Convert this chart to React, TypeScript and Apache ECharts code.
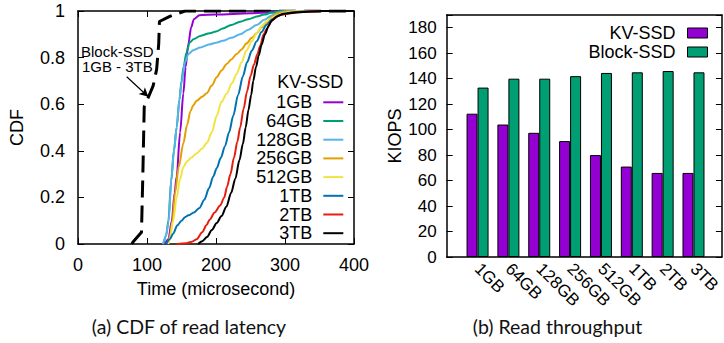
import { useEffect, useRef } from 'react';
import * as echarts from 'echarts';

// ---------- data ----------
const sizeNames = ['1GB', '64GB', '128GB', '256GB', '512GB', '1TB', '2TB', '3TB'];
const lineColors = ['#9400D3', '#009E73', '#56B4E9', '#E69F00', '#F0E442', '#0072B2', '#E51E10', '#000000'];

const cdfBlockSSD = [[78, 0], [80, 0.01], [92, 0.05], [94, 0.3], [96, 0.59], [102, 0.63], [109, 0.68], [114, 0.75], [117, 0.86], [118, 0.955], [133, 0.977], [155, 1.0], [400, 1.0]];

const cdf1GB = [[126, 0], [131, 0.02], [136, 0.1], [140, 0.22], [143, 0.29], [148, 0.48], [152.7, 0.647], [156, 0.76], [160, 0.86], [164, 0.93], [168, 0.965], [176, 0.982], [200, 0.985], [250, 0.99], [280, 0.995], [300, 1], [400, 1]];
const cdf64GB = [[124, 0], [128, 0.04], [131, 0.1], [135, 0.27], [139, 0.4], [143, 0.5], [147, 0.62], [150, 0.7], [153, 0.76], [157, 0.82], [162, 0.865], [168, 0.88], [177, 0.893], [191, 0.905], [200, 0.912], [210, 0.925], [222, 0.94], [235, 0.954], [247, 0.965], [259, 0.976], [270, 0.985], [280, 0.992], [295, 1], [400, 1]];
const cdf128GB = [[123, 0], [127, 0.03], [131, 0.09], [135.7, 0.29], [139, 0.4], [143, 0.5], [147, 0.62], [150, 0.69], [155, 0.78], [160, 0.815], [167, 0.832], [177, 0.843], [191, 0.857], [200, 0.864], [210, 0.872], [222, 0.885], [235, 0.9], [247, 0.92], [259, 0.94], [270, 0.962], [280, 0.98], [290, 0.993], [305, 1], [400, 1]];
const cdf256GB = [[130, 0], [133, 0.03], [137, 0.1], [140.6, 0.22], [146, 0.33], [152.7, 0.432], [158, 0.51], [163, 0.57], [167, 0.595], [172, 0.615], [180, 0.632], [186.5, 0.647], [194, 0.68], [201, 0.716], [208, 0.745], [215.5, 0.772], [222, 0.792], [230, 0.815], [237, 0.835], [244, 0.86], [252, 0.885], [259, 0.905], [266, 0.93], [273, 0.95], [280, 0.972], [288, 0.988], [300, 0.997], [320, 1], [400, 1]];
const cdf512GB = [[131, 0], [133, 0.02], [138, 0.1], [143, 0.2], [148, 0.28], [152.7, 0.33], [158, 0.355], [164, 0.37], [172, 0.39], [180, 0.41], [187, 0.435], [194, 0.48], [201, 0.55], [208, 0.61], [215.5, 0.645], [223, 0.69], [230, 0.73], [237, 0.78], [244, 0.83], [252, 0.87], [259, 0.905], [266, 0.935], [273, 0.955], [280, 0.968], [288, 0.982], [300, 0.993], [320, 1], [400, 1]];
const cdf1TB = [[128, 0], [133, 0.02], [138, 0.045], [144, 0.08], [150, 0.1], [155, 0.115], [160, 0.123], [168, 0.135], [176, 0.155], [183, 0.19], [190, 0.24], [196, 0.29], [201, 0.325], [207, 0.37], [213, 0.42], [219, 0.48], [225, 0.55], [232, 0.64], [239, 0.72], [245, 0.78], [252, 0.83], [259, 0.87], [266, 0.91], [273, 0.94], [281, 0.963], [292, 0.982], [310, 0.995], [340, 1], [400, 1]];
const cdf2TB = [[143, 0], [157, 0.003], [165, 0.01], [172, 0.02], [180, 0.05], [186, 0.08], [191, 0.105], [198, 0.135], [206, 0.165], [212, 0.2], [216, 0.246], [221, 0.3], [226, 0.37], [231, 0.44], [235, 0.5], [240, 0.58], [245, 0.655], [250, 0.72], [255, 0.77], [260, 0.815], [264, 0.85], [269, 0.9], [274, 0.925], [280, 0.955], [286, 0.972], [295, 0.985], [320, 0.995], [350, 1], [400, 1]];
const cdf3TB = [[174, 0], [180, 0.012], [187, 0.03], [194, 0.06], [201, 0.09], [208, 0.12], [215, 0.16], [222, 0.22], [228, 0.28], [234, 0.36], [239, 0.43], [243, 0.5], [247, 0.575], [251, 0.64], [254, 0.7], [258, 0.76], [262, 0.81], [266, 0.855], [271, 0.9], [276, 0.935], [281, 0.96], [289, 0.978], [298, 0.988], [320, 0.995], [355, 1], [400, 1]];
const kvCdfSeries = [cdf1GB, cdf64GB, cdf128GB, cdf256GB, cdf512GB, cdf1TB, cdf2TB, cdf3TB];

// arrow annotation endpoints (data coords)
const arrowFrom = [70.6, 0.718];
const arrowTo = [101.9, 0.632];

const throughputCategories = sizeNames;
const kvSsdKiops = [112.5, 104, 97.5, 91, 80, 71, 66, 66];
const blockSsdKiops = [133, 140, 140, 142, 144.5, 145, 146, 145];

// ---------- chart ----------
const FONT = '"Liberation Sans", Arial, Helvetica, sans-serif';
const CAPTION_FONT = 'Lato, "Open Sans", sans-serif';

export default function App() {
  const ref = useRef<HTMLDivElement>(null);
  useEffect(() => {
    document.body.style.margin = '0';
    if (!ref.current) return;
    const chart = echarts.init(ref.current, null, { renderer: 'svg' });
    const axisLine = { show: true, onZero: false, lineStyle: { color: '#000', width: 1.5 } };
    const tickIn = { show: true, inside: true, length: 6, lineStyle: { color: '#000', width: 1 } };
    const option: any = {
      animation: false,
      backgroundColor: '#ffffff',
      textStyle: { fontFamily: FONT },
      grid: [
        { left: 78, top: 11, width: 276, height: 233 },
        { left: 446.7, top: 15, width: 282, height: 242 },
      ],
      xAxis: [
        {
          gridIndex: 0, type: 'value', min: 0, max: 400, interval: 100, position: 'bottom',
          axisLine, axisTick: tickIn, splitLine: { show: false },
          axisLabel: { color: '#000', fontSize: 18, margin: 12, fontFamily: FONT },
          name: 'Time (microsecond)', nameLocation: 'middle', nameGap: 36,
          nameTextStyle: { color: '#000', fontSize: 18, fontFamily: FONT },
        },
        {
          gridIndex: 0, type: 'value', min: 0, max: 400, interval: 100, position: 'top',
          axisLine, axisTick: tickIn, splitLine: { show: false }, axisLabel: { show: false },
        },
        {
          gridIndex: 1, type: 'value', min: -1, max: 7.92, interval: 1, position: 'bottom',
          axisLine, axisTick: { show: false }, splitLine: { show: false },
          axisLabel: {
            color: '#000', fontSize: 17, margin: 9, rotate: -45, fontFamily: FONT,
            formatter: (v: number) => {
              const r = Math.round(v);
              return Math.abs(v - r) < 1e-6 && r >= 0 && r < throughputCategories.length ? throughputCategories[r] : '';
            },
          },
        },
        {
          gridIndex: 1, type: 'value', min: -1, max: 7.92, interval: 1, position: 'top',
          axisLine, axisTick: { show: false }, splitLine: { show: false }, axisLabel: { show: false },
        },
      ],
      yAxis: [
        {
          gridIndex: 0, type: 'value', min: 0, max: 1, interval: 0.2, position: 'left',
          axisLine, axisTick: tickIn, splitLine: { show: false },
          axisLabel: { color: '#000', fontSize: 18, margin: 13, fontFamily: FONT, formatter: (v: number) => String(+v.toFixed(1)) },
          name: 'CDF', nameLocation: 'middle', nameGap: 52,
          nameTextStyle: { color: '#000', fontSize: 18, fontFamily: FONT },
        },
        {
          gridIndex: 0, type: 'value', min: 0, max: 1, interval: 0.2, position: 'right',
          axisLine, axisTick: tickIn, splitLine: { show: false }, axisLabel: { show: false },
        },
        {
          gridIndex: 1, type: 'value', min: 0, max: 190, interval: 20, position: 'left',
          axisLine, axisTick: tickIn, splitLine: { show: false },
          axisLabel: { color: '#000', fontSize: 17, margin: 10, fontFamily: FONT, formatter: (v: number) => (v > 180 ? '' : String(v)) },
          name: 'KIOPS', nameLocation: 'middle', nameGap: 43,
          nameTextStyle: { color: '#000', fontSize: 18, fontFamily: FONT },
        },
        {
          gridIndex: 1, type: 'value', min: 0, max: 190, interval: 20, position: 'right',
          axisLine, axisTick: tickIn, splitLine: { show: false }, axisLabel: { show: false },
        },
      ],
      legend: [
        {
          data: sizeNames, orient: 'vertical', right: 380.7, top: 93.3, padding: 0,
          align: 'right', icon: 'rect', itemWidth: 20, itemHeight: 2, itemGap: 0.7,
          selectedMode: false,
          textStyle: { color: '#000', fontSize: 18, lineHeight: 18, fontFamily: FONT, padding: [0, 6, 0, 0] },
        },
        {
          data: ['KV-SSD', 'Block-SSD'], orient: 'vertical', right: 16, top: 24, padding: 0,
          align: 'right', icon: 'rect', itemWidth: 20, itemHeight: 10, itemGap: 1,
          selectedMode: false,
          itemStyle: { borderColor: '#000', borderWidth: 1 },
          textStyle: { color: '#000', fontSize: 18, lineHeight: 18, fontFamily: FONT, padding: [0, 7, 0, 0] },
        },
      ],
      series: [
        {
          type: 'line', name: 'Block-SSD (1GB - 3TB)', xAxisIndex: 0, yAxisIndex: 0,
          data: cdfBlockSSD, showSymbol: false, symbol: 'none',
          lineStyle: { color: '#000', width: 3, type: [17, 8] }, itemStyle: { color: '#000' },
          markLine: {
            silent: true, symbol: ['none', 'arrow'], symbolSize: [7, 9],
            label: { show: false },
            lineStyle: { color: '#000', width: 1.2, type: 'solid' },
            data: [[{ coord: arrowFrom }, { coord: arrowTo }]],
          },
        },
        ...sizeNames.map((n, i) => ({
          type: 'line', name: n, xAxisIndex: 0, yAxisIndex: 0,
          data: kvCdfSeries[i], showSymbol: false, symbol: 'none',
          smooth: 0.3, smoothMonotone: 'x',
          lineStyle: { color: lineColors[i], width: 2 }, itemStyle: { color: lineColors[i] },
        })),
        {
          type: 'bar', name: 'KV-SSD', xAxisIndex: 2, yAxisIndex: 2,
          data: kvSsdKiops.map((v, i) => [i, v]), barWidth: 11, barGap: '0%',
          itemStyle: { color: '#9400D3', borderColor: '#000', borderWidth: 1 },
        },
        {
          type: 'bar', name: 'Block-SSD', xAxisIndex: 2, yAxisIndex: 2,
          data: blockSsdKiops.map((v, i) => [i, v]), barWidth: 11, barGap: '0%',
          itemStyle: { color: '#009E73', borderColor: '#000', borderWidth: 1 },
        },
      ],
      graphic: [
        {
          type: 'text', x: 343.3, y: 81.7,
          style: { text: 'KV-SSD', fontSize: 18, fontFamily: FONT, fill: '#000', align: 'right', verticalAlign: 'middle' },
        },
        {
          type: 'text', x: 117.3, y: 59.2,
          style: { text: 'Block-SSD\n1GB - 3TB', fontSize: 15, lineHeight: 15.5, fontFamily: FONT, fill: '#000', align: 'center', verticalAlign: 'middle' },
        },
        {
          type: 'text', x: 189, y: 326.5,
          style: { text: '(a) CDF of read latency', fontSize: 19.5, fontFamily: CAPTION_FONT, fill: '#111', align: 'center', verticalAlign: 'middle' },
        },
        {
          type: 'text', x: 557.5, y: 326.5,
          style: { text: '(b) Read throughput', fontSize: 19.5, fontFamily: CAPTION_FONT, fill: '#111', align: 'center', verticalAlign: 'middle' },
        },
      ],
    };
    chart.setOption(option);
    return () => chart.dispose();
  }, []);
  return <div ref={ref} style={{ width: 724, height: 343 }} />;
}
